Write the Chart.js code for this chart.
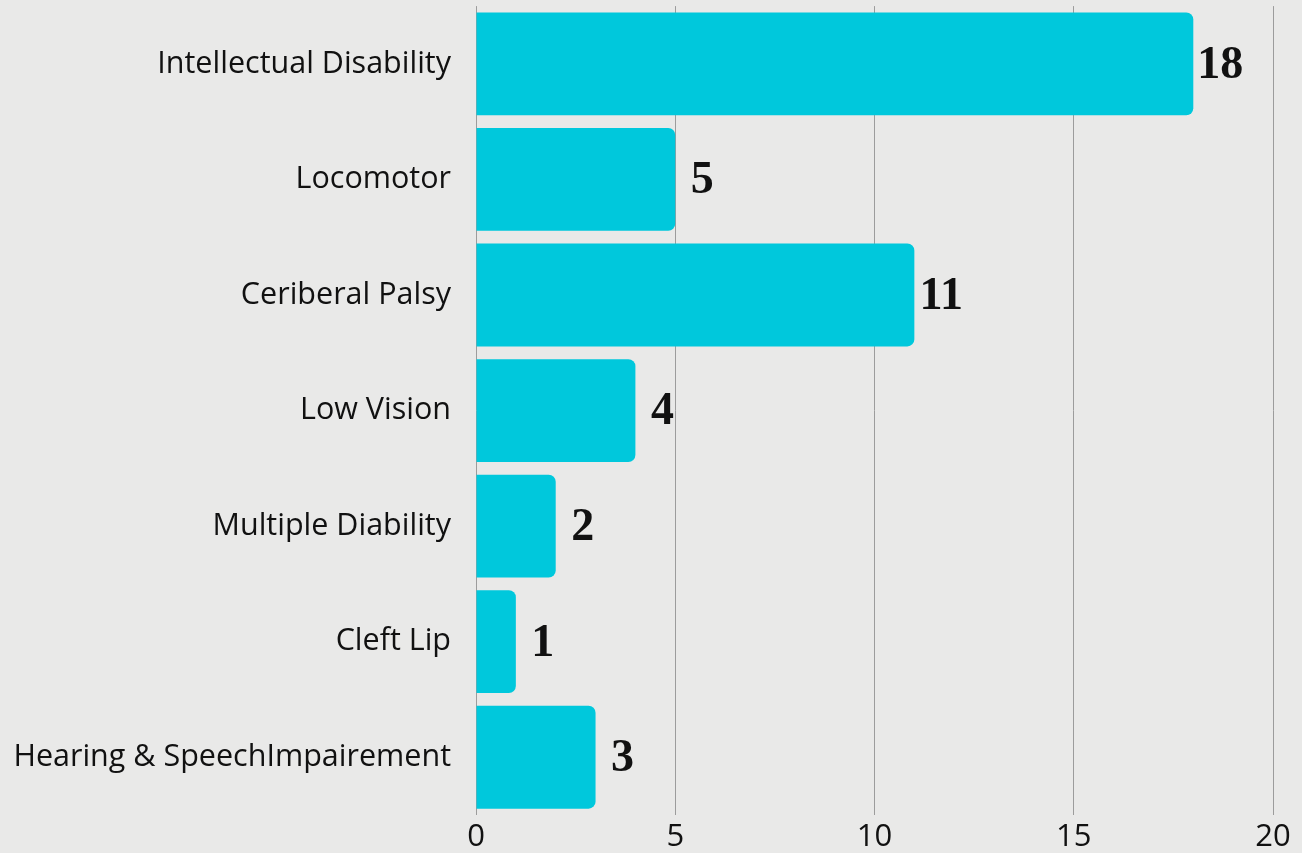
<!DOCTYPE html>
<html>
<head>
<meta charset="utf-8">
<script src="https://cdn.jsdelivr.net/npm/chart.js@4/dist/chart.umd.min.js"></script>
<style>
  html, body { margin: 0; padding: 0; background: #e9e9e8; }
  #wrap { width: 1302px; height: 853px; position: relative; }
</style>
</head>
<body>
<div id="wrap"><canvas id="chart"></canvas></div>
<script>
var categories = ["Intellectual Disability", "Locomotor", "Ceriberal Palsy", "Low Vision",
  "Multiple Diability", "Cleft Lip", "Hearing & SpeechImpairement"];
var counts = [18, 5, 11, 4, 2, 1, 3];
var xTicks = [0, 5, 10, 15, 20];

// value labels to the right of each bar
var valueLabels = {
  id: "valueLabels",
  afterDatasetsDraw: function (chart) {
    var ctx = chart.ctx;
    var meta = chart.getDatasetMeta(0);
    ctx.save();
    ctx.font = "bold 46px 'Liberation Serif'";
    ctx.fillStyle = "#111";
    ctx.textAlign = "center";
    ctx.textBaseline = "middle";
    meta.data.forEach(function (bar, i) {
      ctx.fillText(String(counts[i]), bar.x + 27, bar.y + 2);
    });
    ctx.restore();
  }
};

var ctx = document.getElementById("chart");
var myChart = new Chart(ctx, {
  type: "bar",
  data: {
    labels: categories,
    datasets: [{
      data: counts,
      backgroundColor: "#00c8dc",
      borderRadius: 7,
      borderSkipped: "start",
      barPercentage: 0.89,
      categoryPercentage: 1
    }]
  },
  options: {
    indexAxis: "y",
    responsive: true,
    maintainAspectRatio: false,
    animation: false,
    layout: { padding: { top: 6, right: 29, left: 0, bottom: 0 } },
    plugins: { legend: { display: false }, tooltip: { enabled: false } },
    scales: {
      x: {
        min: 0,
        max: 20,
        afterBuildTicks: function (axis) {
          axis.ticks = xTicks.map(function (v) { return { value: v }; });
        },
        afterFit: function (axis) {
          axis.height = 38;
          axis.paddingLeft = 0;
          axis.paddingRight = 0;
        },
        border: { display: false },
        grid: { color: "#9c9c9c", lineWidth: 1, drawTicks: false },
        ticks: {
          color: "#111",
          padding: 16,
          font: { family: "Open Sans", size: 31, lineHeight: 0.4 }
        }
      },
      y: {
        afterFit: function (axis) { axis.width = 476; },
        border: { display: false },
        grid: { display: false, drawTicks: true, tickLength: 25 },
        ticks: {
          color: "#111",
          padding: 0,
          font: { family: "Open Sans", size: 30.5, lineHeight: 0.4 }
        }
      }
    }
  },
  plugins: [valueLabels]
});
</script>
</body>
</html>
